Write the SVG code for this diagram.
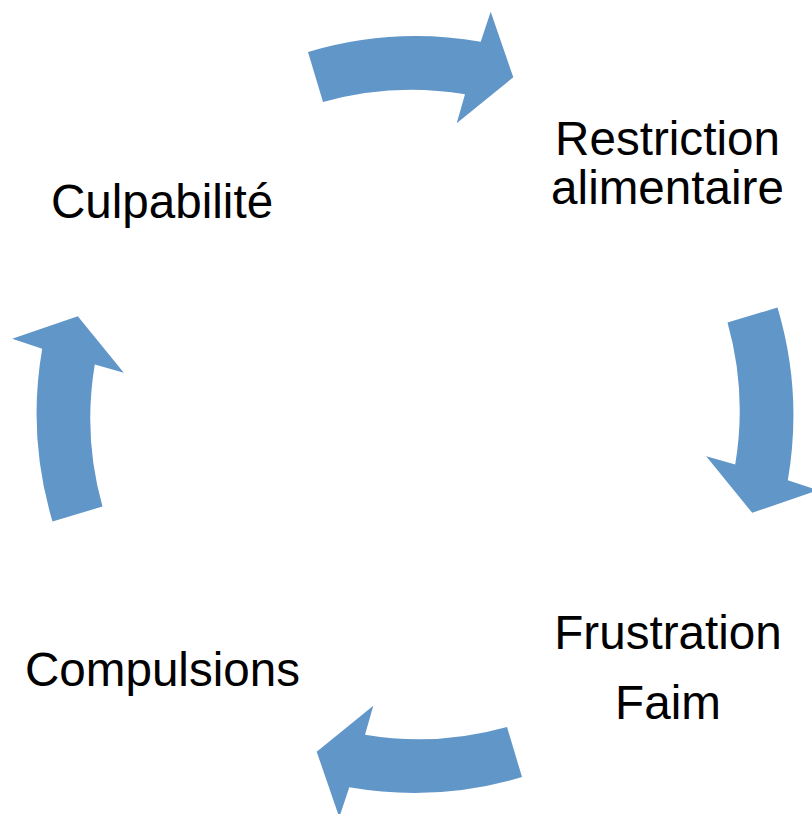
<svg xmlns="http://www.w3.org/2000/svg" xmlns:xlink="http://www.w3.org/1999/xlink" width="812" height="814" viewBox="0 0 812 814">
  <style>
    .lbl { font-family: "Liberation Sans", Arial, sans-serif; font-size: 47.6px; fill: #000000; text-anchor: middle; }
    .arrow { fill: #6196C8; stroke: none; }
  </style>
  <defs>
    <path id="cyc-arrow" class="arrow" d="M 308 52 A 378 378 0 0 1 480.7 41.7 L 490.7 11.7 L 513.3 77.3 L 456.7 123.3 L 465 94.3 A 325 325 0 0 0 323 102 Z"/>
  </defs>
  <rect x="0" y="0" width="812" height="814" fill="#ffffff"/>
  <g id="connectors">
    <use id="arrow-top" xlink:href="#cyc-arrow" href="#cyc-arrow"/>
    <use id="arrow-right" xlink:href="#cyc-arrow" href="#cyc-arrow" transform="rotate(90 415 414.5)"/>
    <use id="arrow-bottom" xlink:href="#cyc-arrow" href="#cyc-arrow" transform="rotate(180 415 414.5)"/>
    <use id="arrow-left" xlink:href="#cyc-arrow" href="#cyc-arrow" transform="rotate(270 415 414.5)"/>
  </g>
  <g id="node-restriction">
    <text class="lbl" x="667.5" y="155">Restriction</text>
    <text class="lbl" x="667.5" y="204">alimentaire</text>
  </g>
  <g id="node-frustration">
    <text class="lbl" x="668" y="649">Frustration</text>
    <text class="lbl" x="668" y="719">Faim</text>
  </g>
  <g id="node-compulsions">
    <text class="lbl" x="162.5" y="686">Compulsions</text>
  </g>
  <g id="node-culpabilite">
    <text class="lbl" x="162" y="218">Culpabilité</text>
  </g>
</svg>
